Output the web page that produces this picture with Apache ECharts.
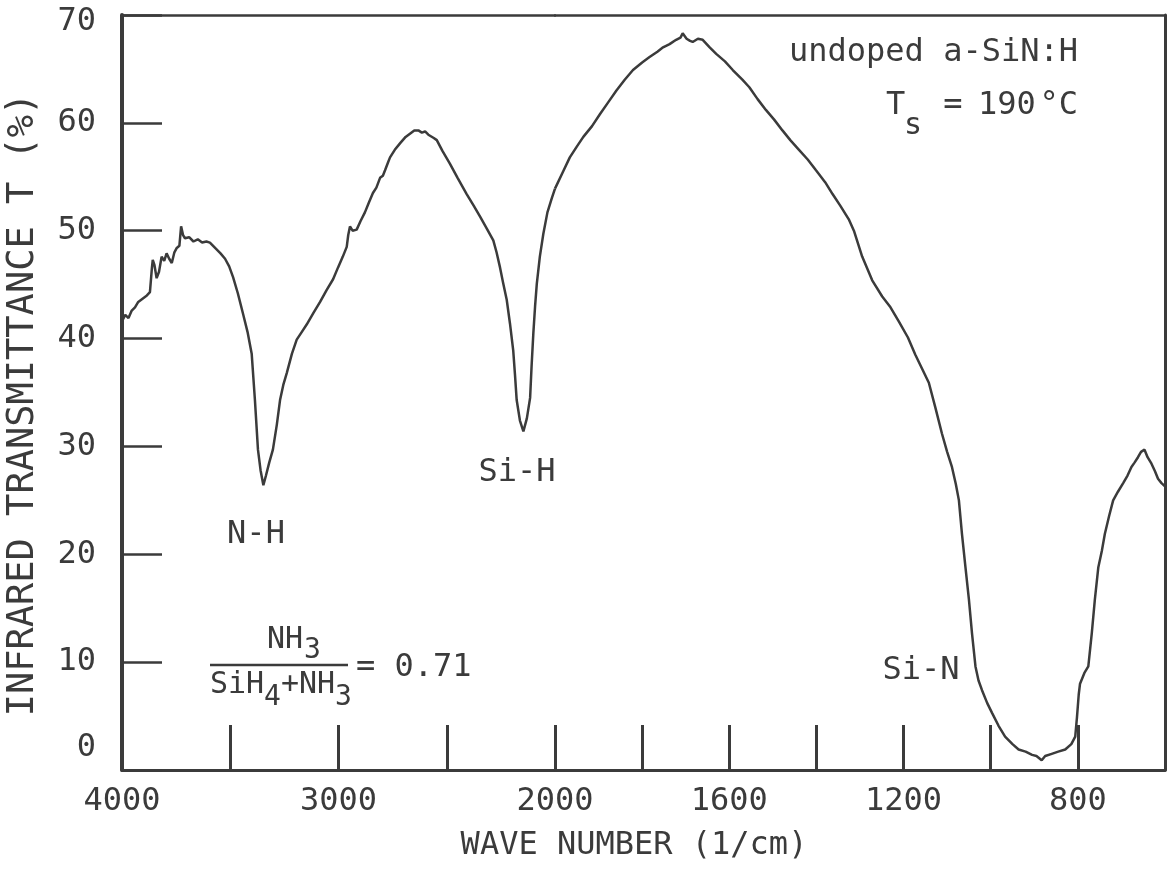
<!DOCTYPE html>
<html>
<head>
<meta charset="utf-8">
<script src="https://cdn.jsdelivr.net/npm/echarts@6/dist/echarts.min.js"></script>
<style>
  html, body { margin: 0; padding: 0; background: #ffffff; }
  #chart { width: 1168px; height: 869px; }
</style>
</head>
<body>
<div id="chart"></div>
<script>
// Wave numbers (1/cm) and transmittance (%)
const waveNumber = [
  4000, 3985, 3970, 3955, 3940, 3925, 3905, 3885, 3871, 3862, 3858, 3850, 3840, 3829, 3817, 3805,
  3794, 3782, 3770, 3758, 3747, 3735, 3727, 3718, 3709, 3690, 3670, 3650, 3630, 3610, 3594, 3570,
  3545, 3524, 3505, 3487, 3465, 3441, 3420, 3401, 3386, 3372, 3360, 3347, 3335, 3320, 3303, 3285,
  3270, 3255, 3239, 3215, 3193, 3170, 3147, 3115, 3085, 3055, 3025, 3002, 2980, 2962, 2955, 2947,
  2935, 2916, 2898, 2878, 2860, 2841, 2825, 2808, 2795, 2785, 2770, 2762, 2740, 2716, 2690, 2670,
  2650, 2631, 2615, 2600, 2585, 2577, 2560, 2546, 2520, 2485, 2450, 2408, 2375, 2346, 2315, 2285,
  2270, 2254, 2240, 2223, 2208, 2193, 2185, 2177, 2162, 2146, 2130, 2115, 2108, 2100, 2092, 2084,
  2070, 2054, 2035, 2015, 2000,
  1980, 1966, 1950, 1935, 1915, 1897, 1878, 1859, 1840, 1821, 1800, 1783, 1765, 1752, 1737, 1722,
  1712, 1707, 1698, 1690, 1684, 1672, 1661, 1645, 1630, 1610, 1592, 1570, 1554, 1535, 1516, 1497,
  1478, 1460, 1440, 1420, 1401, 1380, 1363, 1345, 1325, 1314, 1295, 1272, 1249, 1230, 1211, 1190,
  1173, 1155, 1142, 1127, 1112, 1100, 1089, 1080, 1073, 1066, 1058, 1050, 1043, 1035, 1028, 1020,
  1008, 997, 982, 967, 950, 936, 920, 905, 895, 883, 875, 860, 845, 829, 815, 806,
  802, 798, 795, 785, 776, 768, 761, 753, 745, 738, 728, 719, 708, 696, 686, 677,
  670, 662, 655, 647, 640, 631, 623, 616, 608, 600
];
const transmittance = [
  41.6, 42.2, 41.9, 42.6, 42.9, 43.4, 43.7, 44.0, 44.3, 46.5, 47.3, 46.8, 45.6, 46.2, 47.6, 47.2,
  47.9, 47.4, 47.0, 48.0, 48.4, 48.6, 50.4, 49.6, 49.3, 49.4, 49.0, 49.2, 48.9, 49.0, 48.9, 48.4,
  47.9, 47.4, 46.7, 45.7, 44.2, 42.3, 40.6, 38.6, 34.3, 29.7, 27.8, 26.4, 27.3, 28.5, 29.7, 32.0,
  34.3, 35.7, 36.8, 38.6, 39.9, 40.6, 41.3, 42.4, 43.4, 44.5, 45.5, 46.6, 47.6, 48.5, 49.6, 50.4,
  50.0, 50.1, 50.9, 51.7, 52.6, 53.5, 54.0, 54.9, 55.1, 55.6, 56.4, 56.8, 57.5, 58.1, 58.7, 59.0,
  59.3, 59.3, 59.1, 59.2, 58.9, 58.9, 58.6, 58.4, 57.4, 56.2, 54.9, 53.4, 52.3, 51.3, 50.2, 49.1,
  48.0, 46.6, 45.2, 43.6, 41.4, 38.9, 36.7, 34.3, 32.4, 31.4, 32.6, 34.5, 37.5, 40.5, 43.0, 45.1,
  47.6, 49.7, 51.7, 53.0, 53.9,
  55.6, 56.8, 57.8, 58.7, 59.7, 60.8, 61.9, 63.0, 64.0, 64.9, 65.6, 66.1, 66.6, 67.0, 67.3, 67.7,
  67.9, 68.3, 67.8, 67.6, 67.5, 67.8, 67.7, 67.0, 66.4, 65.7, 64.9, 64.0, 63.3, 62.2, 61.2, 60.3,
  59.3, 58.4, 57.5, 56.6, 55.6, 54.5, 53.4, 52.3, 51.0, 50.0, 47.6, 45.4, 43.9, 42.9, 41.6, 40.1,
  38.5, 37.0, 35.9, 33.6, 31.2, 29.5, 28.1, 26.5, 25.0, 21.9, 18.8, 15.8, 12.7, 9.6, 8.3, 7.4,
  6.2, 5.3, 4.1, 3.1, 2.4, 1.9, 1.7, 1.4, 1.3, 0.9, 1.3, 1.5, 1.7, 1.9, 2.4, 3.1,
  4.9, 7.0, 8.0, 9.0, 9.6, 12.7, 15.8, 18.8, 20.3, 21.9, 23.6, 25.0, 25.8, 26.6, 27.3, 28.1,
  28.5, 29.0, 29.5, 29.7, 29.0, 28.4, 27.7, 27.0, 26.6, 26.3
];
// Axis ranges and labels (the spectrometer changes scale at 2000 1/cm)
const highRange = [2000, 4000];
const highInterval = 500;
const highLabels = [4000, 3000];
const lowRange = [600, 2000];
const lowInterval = 200;
const lowLabels = [2000, 1600, 1200, 800];
const yRange = [0, 70];
const yInterval = 10;

const INK = '#3b3b3b';
const FONT = "'DejaVu Sans Mono', monospace";

const highData = [], lowData = [];
waveNumber.forEach((w, i) => {
  if (w >= 2000) highData.push([w, transmittance[i]]);
  if (w <= 2000) lowData.push([w, transmittance[i]]);
});

const chart = echarts.init(document.getElementById('chart'), null, { renderer: 'canvas' });

const baseX = {
  type: 'value', inverse: true, splitLine: { show: false },
  axisLine: { show: true, onZero: false, lineStyle: { color: INK, width: 3 } },
  axisTick: { show: true, inside: true, length: 45, lineStyle: { color: INK, width: 3 } },
  axisLabel: { color: INK, fontFamily: FONT, fontSize: 32, margin: 16, showMinLabel: true, showMaxLabel: true }
};

const txt = (x, y, text, size, align) => ({
  type: 'text', x: x, y: y,
  style: { text: text, font: size + 'px ' + FONT, fill: INK, textAlign: align || 'left', textVerticalAlign: 'middle' }
});

const option = {
  animation: false,
  backgroundColor: '#ffffff',
  grid: [
    { left: 122, top: 15, width: 433, height: 755 },
    { left: 555, top: 15, width: 612, height: 755 }
  ],
  xAxis: [
    Object.assign({}, baseX, {
      gridIndex: 0, min: highRange[0], max: highRange[1], interval: highInterval,
      axisLabel: Object.assign({}, baseX.axisLabel, {
        formatter: v => highLabels.includes(v) ? String(v) : ''
      })
    }),
    Object.assign({}, baseX, {
      gridIndex: 1, min: lowRange[0], max: lowRange[1], interval: lowInterval,
      axisLabel: Object.assign({}, baseX.axisLabel, {
        formatter: v => lowLabels.includes(v) ? String(v) : ''
      })
    }),
    { type: 'value', gridIndex: 0, position: 'top', inverse: true, min: highRange[0], max: highRange[1],
      axisLine: { show: true, onZero: false, lineStyle: { color: INK, width: 2.5 } },
      axisTick: { show: false }, axisLabel: { show: false }, splitLine: { show: false } },
    { type: 'value', gridIndex: 1, position: 'top', inverse: true, min: lowRange[0], max: lowRange[1],
      axisLine: { show: true, onZero: false, lineStyle: { color: INK, width: 2.5 } },
      axisTick: { show: false }, axisLabel: { show: false }, splitLine: { show: false } }
  ],
  yAxis: [
    { type: 'value', gridIndex: 0, min: yRange[0], max: yRange[1], interval: yInterval,
      name: 'INFRARED TRANSMITTANCE T (%)', nameLocation: 'middle', nameGap: 80,
      nameTextStyle: { color: INK, fontFamily: FONT, fontSize: 37, padding: [0, 0, 0, -24] },
      splitLine: { show: false },
      axisLine: { show: true, onZero: false, lineStyle: { color: INK, width: 4 } },
      axisTick: { show: true, inside: true, length: 40, lineStyle: { color: INK, width: 2.5 } },
      axisLabel: { color: INK, fontFamily: FONT, fontSize: 32, margin: 26,
        formatter: v => v === 0 ? '{z|0}' : (v === 70 ? '{t|70}' : String(v)),
        rich: {
          z: { color: INK, fontFamily: FONT, fontSize: 32, padding: [0, 0, 44, 0] },
          t: { color: INK, fontFamily: FONT, fontSize: 32, padding: [14, 0, 0, 0] }
        } } },
    { type: 'value', gridIndex: 1, position: 'right', min: yRange[0], max: yRange[1], interval: yInterval,
      splitLine: { show: false },
      axisLine: { show: true, onZero: false, lineStyle: { color: INK, width: 3 } },
      axisTick: { show: false }, axisLabel: { show: false } }
  ],
  series: [
    { type: 'line', xAxisIndex: 0, yAxisIndex: 0, data: highData, showSymbol: false, symbol: 'none',
      lineStyle: { color: INK, width: 2.5 } },
    { type: 'line', xAxisIndex: 1, yAxisIndex: 1, data: lowData, showSymbol: false, symbol: 'none',
      lineStyle: { color: INK, width: 2.5 } }
  ],
  graphic: [
    txt(634, 846, 'WAVE NUMBER (1/cm)', 32, 'center'),
    txt(1078, 53, 'undoped a-SiN:H', 32, 'right'),
    txt(886, 106, 'T', 32),
    txt(904, 126, 's', 30),
    txt(953, 106, '=', 32, 'center'),
    txt(978, 106, '190', 32),
    txt(1078, 106, '°C', 32, 'right'),
    txt(256, 535, 'N-H', 32, 'center'),
    txt(517, 473, 'Si-H', 32, 'center'),
    txt(921, 671, 'Si-N', 32, 'center'),
    txt(267, 640, 'NH', 30),
    txt(304, 651, '3', 28),
    { type: 'line', shape: { x1: 210, y1: 665, x2: 348, y2: 665 }, style: { stroke: INK, lineWidth: 2.5 } },
    txt(210, 685, 'SiH', 30),
    txt(264, 698, '4', 28),
    txt(281, 685, '+NH', 30),
    txt(335, 698, '3', 28),
    txt(356, 668, '= 0.71', 32)
  ]
};
chart.setOption(option);
</script>
</body>
</html>
